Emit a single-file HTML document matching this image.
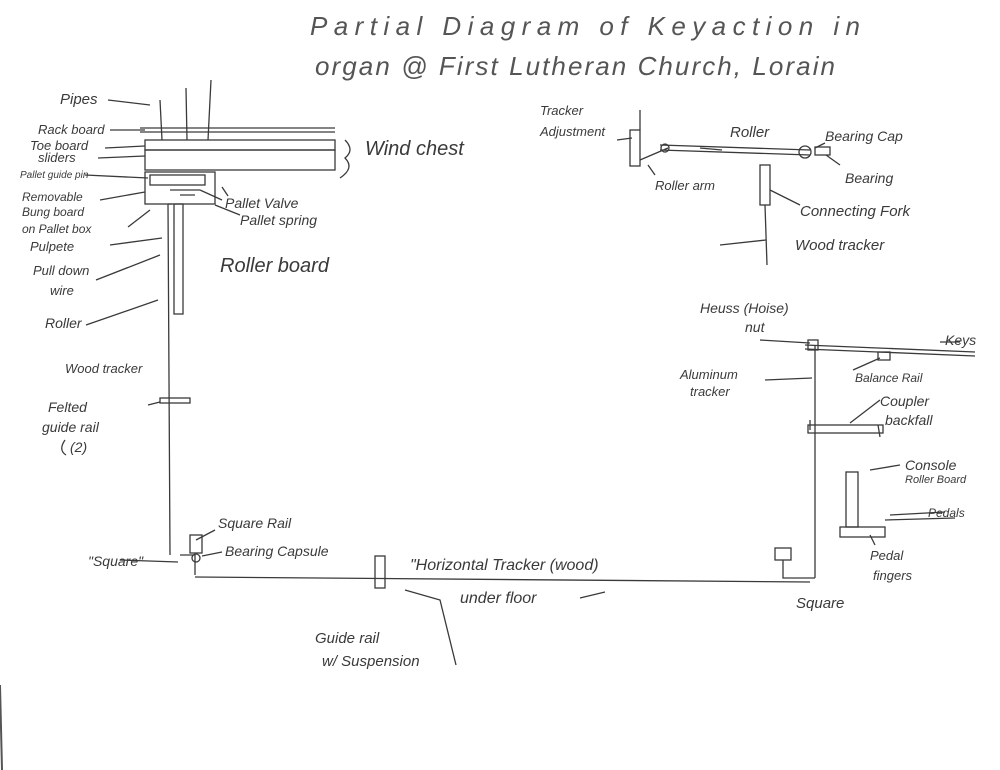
<!DOCTYPE html>
<html><head><meta charset="utf-8"><style>
body{margin:0;background:#fff;}
svg{display:block}
text{font-family:"Liberation Sans",sans-serif;fill:#3a3a3a;font-style:italic}
</style></head><body>
<svg width="1000" height="770" viewBox="0 0 1000 770" xmlns="http://www.w3.org/2000/svg">
<rect width="1000" height="770" fill="#fff"/>
<g stroke="#3a3a3a" stroke-width="1.3" fill="none">
<path d="M160 100 L162 140 M186 88 L187 140 M211 80 L208 140"/>
<path d="M140 128 L335 128 M140 132 L335 132"/>
<rect x="145" y="140" width="190" height="10"/>
<rect x="145" y="150" width="190" height="20"/>
<rect x="145" y="172" width="70" height="32"/>
<rect x="150" y="175" width="55" height="10"/>
<path d="M170 190 L200 190 M180 195 L195 195"/>
<rect x="174" y="204" width="9" height="110"/>
<path d="M168 204 L170 555 M168 204 L172 204"/>
<rect x="160" y="398" width="30" height="5"/>
<rect x="190" y="535" width="12" height="18"/>
<path d="M180 555 L195 555 L195 575 M195 577 L810 582"/>
<circle cx="196" cy="558" r="4"/>
<rect x="375" y="556" width="10" height="32"/>
<rect x="775" y="548" width="16" height="12"/>
<path d="M783 560 L783 578 L815 578"/>
<path d="M815 345 L815 578"/>
<path d="M805 345 L975 352 M805 349 L975 356"/>
<rect x="878" y="352" width="12" height="8"/>
<rect x="808" y="340" width="10" height="10"/>
<rect x="808" y="425" width="75" height="8"/>
<path d="M810 420 L810 430 M878 425 L880 437"/>
<rect x="846" y="472" width="12" height="55"/>
<rect x="840" y="527" width="45" height="10"/>
<path d="M885 520 L955 518"/>
<path d="M640 110 L640 130"/>
<rect x="630" y="130" width="10" height="36"/>
<path d="M640 160 L668 148 M660 145 L810 150 M660 150 L810 155"/>
<circle cx="665" cy="148" r="4"/>
<circle cx="805" cy="152" r="6"/>
<rect x="815" y="147" width="15" height="8"/>
<rect x="760" y="165" width="10" height="40"/>
<path d="M765 205 L767 265"/>
<path d="M108 100 L150 105 M110 130 L145 130 M105 148 L145 146 M98 158 L145 156 M85 175 L148 178 M100 200 L145 192 M128 227 L150 210 M110 245 L162 238 M96 280 L160 255 M86 325 L158 300 M148 405 L160 402 M200 190 L222 200 M215 205 L240 215 M228 196 L222 187 M120 560 L178 562 M215 530 L196 540 M222 552 L202 556 M456 665 L440 600 L405 590 M580 598 L605 592 M617 140 L632 138 M655 175 L648 165 M722 150 L700 148 M825 143 L815 148 M840 165 L826 155 M800 205 L770 190 M720 245 L766 240 M760 340 L810 343 M940 342 L960 342 M853 370 L880 358 M765 380 L812 378 M880 400 L850 423 M900 465 L870 470 M945 512 L890 515 M875 545 L870 535"/>
<path d="M345 140 Q355 150 345 158 Q355 168 340 178"/>
<path d="M65 440 Q58 450 66 455"/>
</g>
<g font-size="15">
<text x="310" y="35" font-size="26" textLength="550" lengthAdjust="spacing" style="fill:#555">Partial   Diagram  of  Keyaction   in</text>
<text x="315" y="75" font-size="26" textLength="520" lengthAdjust="spacing" style="fill:#555">organ @ First Lutheran Church, Lorain</text>
<text x="60" y="104">Pipes</text>
<text x="38" y="134" font-size="13">Rack board</text>
<text x="30" y="150" font-size="13">Toe board</text>
<text x="38" y="162" font-size="13">sliders</text>
<text x="20" y="178" font-size="10">Pallet guide pin</text>
<text x="22" y="201" font-size="12">Removable</text>
<text x="22" y="216" font-size="12">Bung board</text>
<text x="22" y="233" font-size="12">on   Pallet box</text>
<text x="30" y="251" font-size="13">Pulpete</text>
<text x="33" y="275" font-size="13">Pull down</text>
<text x="50" y="295" font-size="13">wire</text>
<text x="45" y="328" font-size="14">Roller</text>
<text x="65" y="373" font-size="13">Wood tracker</text>
<text x="48" y="412" font-size="14">Felted</text>
<text x="42" y="432" font-size="14">guide rail</text>
<text x="70" y="452" font-size="14">(2)</text>
<text x="365" y="155" font-size="20">Wind chest</text>
<text x="225" y="208" font-size="14">Pallet Valve</text>
<text x="240" y="225" font-size="14">Pallet spring</text>
<text x="220" y="272" font-size="20">Roller board</text>
<text x="218" y="528" font-size="14">Square Rail</text>
<text x="225" y="556" font-size="14">Bearing Capsule</text>
<text x="88" y="566" font-size="14">"Square"</text>
<text x="410" y="570" font-size="16">"Horizontal Tracker (wood)</text>
<text x="460" y="603" font-size="16">under floor</text>
<text x="315" y="643" font-size="15">Guide rail</text>
<text x="322" y="666" font-size="15">w/ Suspension</text>
<text x="540" y="115" font-size="13">Tracker</text>
<text x="540" y="136" font-size="13">Adjustment</text>
<text x="730" y="137" font-size="15">Roller</text>
<text x="825" y="141" font-size="14">Bearing Cap</text>
<text x="845" y="183" font-size="14">Bearing</text>
<text x="655" y="190" font-size="13">Roller arm</text>
<text x="800" y="216" font-size="15">Connecting Fork</text>
<text x="795" y="250" font-size="15">Wood tracker</text>
<text x="700" y="313" font-size="14">Heuss  (Hoise)</text>
<text x="745" y="332" font-size="14">nut</text>
<text x="945" y="345" font-size="14">Keys</text>
<text x="855" y="382" font-size="12">Balance Rail</text>
<text x="680" y="379" font-size="13">Aluminum</text>
<text x="690" y="396" font-size="13">tracker</text>
<text x="880" y="406" font-size="14">Coupler</text>
<text x="885" y="425" font-size="14">backfall</text>
<text x="905" y="470" font-size="14">Console</text>
<text x="905" y="483" font-size="11">Roller Board</text>
<text x="928" y="517" font-size="12">Pedals</text>
<text x="870" y="560" font-size="13">Pedal</text>
<text x="873" y="580" font-size="13">fingers</text>
<text x="796" y="608" font-size="15">Square</text>
</g>
<path d="M0 685 L2 770" stroke="#555" stroke-width="2"/>
</svg>
</body></html>
